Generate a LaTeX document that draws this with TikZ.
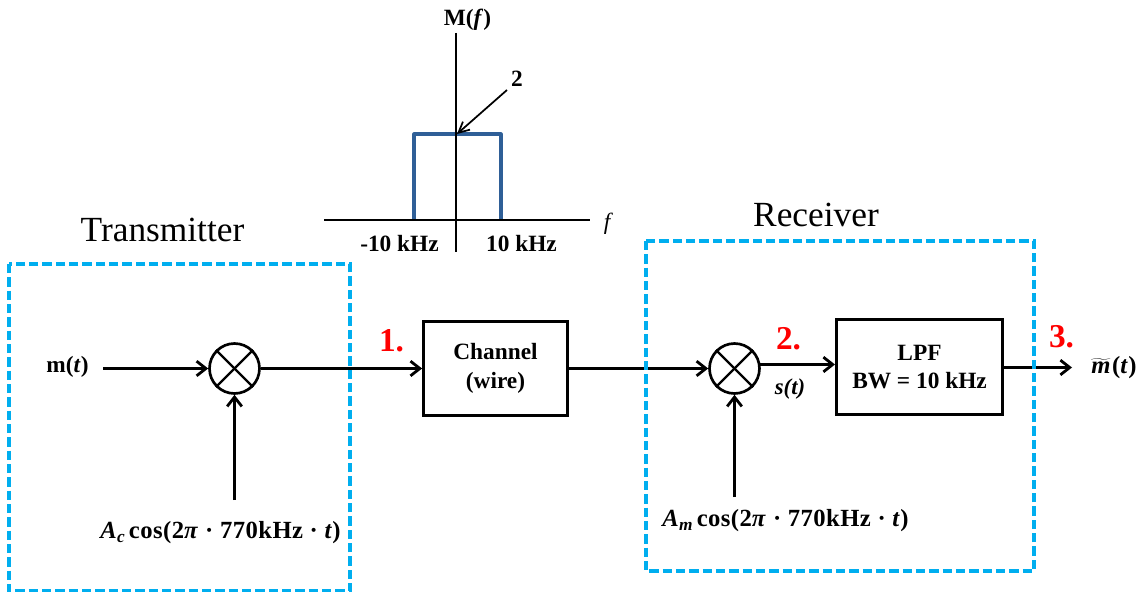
\documentclass[tikz,border=0pt]{standalone}
\usepackage{fontspec}
\setmainfont{Liberation Serif}
\usetikzlibrary{arrows.meta}
\definecolor{dashblue}{HTML}{00AEEF}
\definecolor{specblue}{HTML}{2F5F97}
\newcommand{\fs}[1]{\fontsize{#1}{#1}\selectfont}
\newcommand{\mathlab}{\fs{18.5pt}\bfseries\addfontfeature{LetterSpace=1.8}}
\tikzset{
  x=0.75pt,y=-0.75pt,
  lab/.style={inner sep=0pt,font=\fs{17.5pt}\bfseries,text=black,align=center},
  formula/.style={inner sep=0pt,font=\mathlab,text=black,anchor=west},
  head/.style={inner sep=0pt,font=\fs{26.5pt},text=black},
  num/.style={inner sep=0pt,font=\fs{25pt}\bfseries,text=red},
  blockbox/.style={draw=black,line width=2.1pt,inner sep=0pt,align=center,font=\fontsize{17.5pt}{21.5pt}\selectfont\bfseries},
  mixer/.style={draw=black,line width=2pt,circle,inner sep=0pt,minimum size=37.5pt},
  sig/.style={draw=black,line width=2.1pt,-{Straight Barb[length=7pt,width=11pt,line width=2.1pt]}},
  mixcross/.style={draw=black,line width=1.7pt},
  axis/.style={draw=black,line width=1.2pt},
  spec/.style={draw=specblue,line width=2.3pt,line join=round},
  pointer/.style={draw=black,line width=1.3pt,-{Straight Barb[length=8pt,width=8pt,line width=1.3pt]}},
  region/.style={draw=dashblue,line width=2.3pt,dash pattern=on 7pt off 3pt},
}
\begin{document}
\begin{tikzpicture}
\useasboundingbox (0,0) rectangle (1143,592);
% spectrum sketch
\coordinate (yt) at (456,33); \coordinate (yb) at (456,252);
\coordinate (xl) at (324,220); \coordinate (xr) at (590,220);
\coordinate (s1) at (414,220); \coordinate (s2) at (414,134);
\coordinate (s3) at (501,134); \coordinate (s4) at (501,220);
\coordinate (peak) at (457,134);
\draw[spec] (s1) -- (s2) -- (s3) -- (s4);
\draw[axis] (yt) -- (yb);
\draw[axis] (xl) -- (xr);
\node[lab] (mf) at (467.5,20) {M(\textit{f})};
\node[lab] (two) at (517,79) {2};
\coordinate (ptail) at (507,90);
\draw[pointer] (ptail) -- (peak);
\node[inner sep=0pt,font=\fs{17.5pt}\itshape] (fl) at (607,224) {f};
\node[lab] (lneg) at (399.5,244) {-10 kHz};
\node[lab] (lpos) at (521.5,244) {10 kHz};
% headings
\node[head] (tx) at (162.5,230) {Transmitter};
\node[head] (rx) at (816,215) {Receiver};
% blocks
\node[mixer] (m1) at (234.5,368.5) {};
\node[mixer] (m2) at (734.5,368.5) {};
\draw[mixcross] (m1.north west) -- (m1.south east);
\draw[mixcross] (m1.north east) -- (m1.south west);
\draw[mixcross] (m2.north west) -- (m2.south east);
\draw[mixcross] (m2.north east) -- (m2.south west);
\node[blockbox,minimum width=108pt,minimum height=70.5pt] (chan) at (495.5,368.5) {Channel\\(wire)};
\node[blockbox,minimum width=124.5pt,minimum height=71.25pt] (lpf) at (919.5,367) {LPF\\BW = 10 kHz};
% labels
\node[lab] (mt) at (67.5,367) {m(\textit{t})};
\node[formula] (ac) at (100,533) {\textit{A}\raisebox{-0.3ex}{\fs{13pt}\bfseries\itshape c}\,cos(2\textit{π} · 770kHz · \textit{t})};
\node[formula] (am) at (662,521) {\textit{A}\raisebox{-0.3ex}{\fs{13pt}\bfseries\itshape m}\,cos(2\textit{π} · 770kHz · \textit{t})};
\node[lab,font=\fs{17pt}\bfseries\itshape] (st) at (790,389) {s(t)};
\node[formula] (mo) at (1091,368) {{\boldmath$\widetilde{\mbox{\textit{m}}}$}\kern1pt(\textit{t})};
\node[num] (n1) at (391.5,341) {1.};
\node[num] (n2) at (788.5,339) {2.};
\node[num] (n3) at (1061.5,337) {3.};
% connectors
\coordinate (mtend) at (103,368.5);
\coordinate (acend) at (234.5,500);
\coordinate (amend) at (734.5,497);
\coordinate (s2out) at (760,364.5);
\coordinate (s2in) at (835,364.5);
\coordinate (out0) at (1002,367.5);
\coordinate (out1) at (1072,367.5);
\draw[sig] (mtend) -- (mtend -| m1.west);
\draw[sig] (m1.east) -- (m1.east -| chan.west);
\draw[sig] (chan.east |- m2.west) -- (m2.west);
\draw[sig] (acend) -- (m1.south);
\draw[sig] (amend) -- (m2.south);
\draw[sig] (s2out) -- (s2in);
\draw[sig] (out0) -- (out1);
% dashed regions
\draw[region] (9,264) rectangle (350,591);
\draw[region] (646,241) rectangle (1034,571);
\end{tikzpicture}
\end{document}
